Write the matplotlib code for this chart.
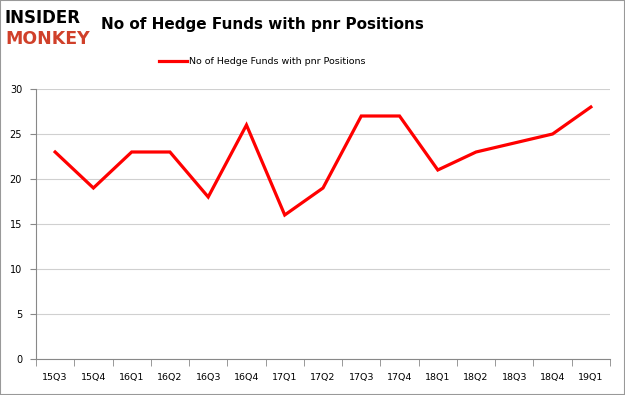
import matplotlib
matplotlib.use("Agg")
import matplotlib.pyplot as plt
from matplotlib.patches import Rectangle

# data
quarters = ["15Q3", "15Q4", "16Q1", "16Q2", "16Q3", "16Q4", "17Q1", "17Q2",
            "17Q3", "17Q4", "18Q1", "18Q2", "18Q3", "18Q4", "19Q1"]
funds = [23, 19, 23, 23, 18, 26, 16, 19, 27, 27, 21, 23, 24, 25, 28]
yticks = [0, 5, 10, 15, 20, 25, 30]

plt.rcParams["font.family"] = ["DejaVu Sans"]

fig = plt.figure(figsize=(6.25, 3.95), dpi=100)
ax = fig.add_axes([36 / 625, 1 - 359 / 395, 574 / 625, 270 / 395])

x = list(range(len(quarters)))
ax.plot(x, funds, color="#ff0000", lw=2.3, solid_joinstyle="miter",
        label="No of Hedge Funds with pnr Positions")

ax.set_xlim(-0.5, len(quarters) - 0.5)
ax.set_ylim(0, 30)
ax.set_yticks(yticks)
ax.set_yticklabels([str(v) for v in yticks], fontsize=7)
ax.set_xticks(x)
ax.set_xticklabels(quarters, fontsize=6.8)
ax.tick_params(axis="x", length=0, pad=10)
ax.tick_params(axis="y", length=4, color="#888888", pad=6)
ax.set_xticks([i - 0.5 for i in range(len(quarters) + 1)], minor=True)
ax.tick_params(axis="x", which="minor", length=5, color="#888888")
ax.grid(axis="y", color="#d0d0d0", lw=0.8)
ax.set_axisbelow(True)
for s in ["top", "right"]:
    ax.spines[s].set_visible(False)
ax.spines["left"].set_color("#888888")
ax.spines["bottom"].set_color("#888888")

# legend and title
fig.legend(loc="center", bbox_to_anchor=(262 / 625, 1 - 62 / 395), frameon=False,
           fontsize=6.8, handlelength=3.0, handletextpad=0.2)
fig.text(262 / 625, 1 - 25 / 395, "No of Hedge Funds with pnr Positions",
         ha="center", va="center", fontsize=11, fontweight="bold")

# logo
fig.text(5 / 625, 1 - 18 / 395, "INSIDER", ha="left", va="center",
         fontsize=12, fontweight="heavy", color="black")
fig.text(5 / 625, 1 - 39 / 395, "MONKEY", ha="left", va="center",
         fontsize=12.5, fontweight="heavy", color="#d0402a")

# outer border
fig.patches.append(Rectangle((0, 0), 1, 1, transform=fig.transFigure,
                             fill=False, edgecolor="#999999", lw=1.5))

fig.savefig("out.png", dpi=100)
